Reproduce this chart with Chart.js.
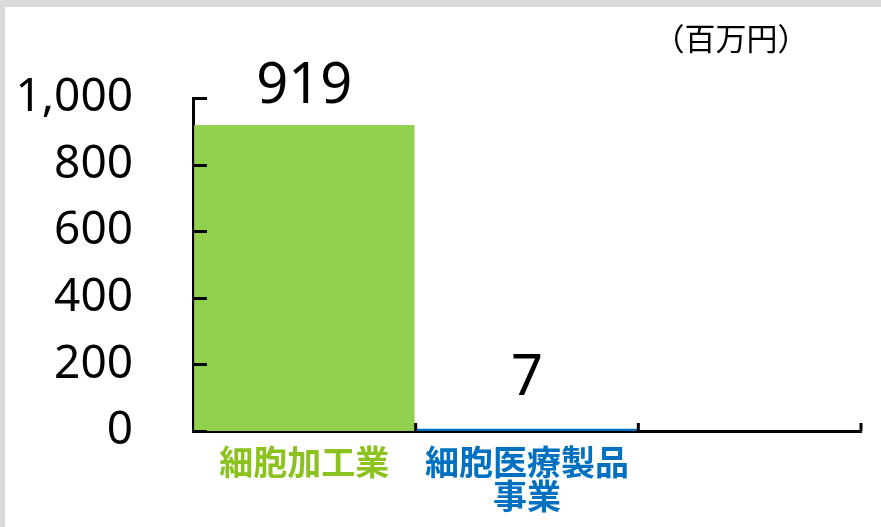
<!DOCTYPE html>
<html>
<head>
<meta charset="utf-8">
<script src="https://cdn.jsdelivr.net/npm/chart.js@4/dist/chart.umd.min.js"></script>
<style>
html,body{margin:0;padding:0;background:#fff;}
canvas{display:block;}
</style>
</head>
<body>
<canvas id="c" width="881" height="527"></canvas>
<script>
const categories = [['細胞加工業'], ['細胞医療製品', '事業'], ''];
const values = [919, 7, null];
const barColors = ['#92d050', '#0070c0', '#ffffff'];
const labelColors = ['#8cc21f', '#0070c0', '#000000'];
const yTicks = [0, 200, 400, 600, 800, 1000];
const unitLabel = '（百万円）';

const framePlugin = {
  id: 'frame',
  beforeDraw(chart) {
    const ctx = chart.ctx;
    ctx.save();
    ctx.fillStyle = '#d9d9d9';
    ctx.fillRect(0, 0, chart.width, chart.height);
    ctx.fillStyle = '#ffffff';
    ctx.fillRect(5, 7, chart.width - 5, chart.height - 7);
    ctx.restore();
  }
};

const decoPlugin = {
  id: 'deco',
  afterDraw(chart) {
    const ctx = chart.ctx;
    const ca = chart.chartArea;
    const x = chart.scales.x, y = chart.scales.y;
    ctx.save();
    ctx.strokeStyle = '#000';
    ctx.lineWidth = 3;
    // inward y ticks
    yTicks.forEach(v => {
      const py = Math.round(y.getPixelForValue(v)) + 0.5;
      ctx.beginPath();
      ctx.moveTo(ca.left, py);
      ctx.lineTo(ca.left + 14, py);
      ctx.stroke();
    });
    // category boundary ticks (upward)
    const n = chart.data.labels.length;
    const w = (x.right - x.left) / n;
    for (let i = 1; i <= n; i++) {
      const px = x.getPixelForValue(i - 1) + w / 2;
      ctx.beginPath();
      ctx.moveTo(px, ca.bottom);
      ctx.lineTo(px, ca.bottom - 8);
      ctx.stroke();
    }
    // value labels
    const meta = chart.getDatasetMeta(0);
    const offsets = [22, 34];
    ctx.fillStyle = '#000';
    ctx.font = '56px "Noto Sans", sans-serif';
    ctx.textAlign = 'center';
    ctx.textBaseline = 'alphabetic';
    meta.data.forEach((bar, i) => {
      const v = chart.data.datasets[0].data[i];
      if (v === null || v === undefined) return;
      ctx.fillText(String(v), bar.x, bar.y - (offsets[i] || 22));
    });
    // unit label
    ctx.font = '31px "Noto Sans CJK JP", sans-serif';
    ctx.textBaseline = 'middle';
    ctx.fillText(unitLabel, 731, 38);
    ctx.restore();
  }
};

new Chart(document.getElementById('c'), {
  type: 'bar',
  data: {
    labels: categories,
    datasets: [{
      data: values,
      backgroundColor: barColors,
      borderWidth: 0,
      categoryPercentage: 1.0,
      barPercentage: 0.99
    }]
  },
  options: {
    responsive: false,
    animation: false,
    devicePixelRatio: 1,
    layout: { padding: { left: 0, top: 98, right: 20, bottom: 0 } },
    plugins: { legend: { display: false }, tooltip: { enabled: false } },
    scales: {
      x: {
        grid: { display: false },
        border: { display: true, color: '#000', width: 3 },
        ticks: {
          padding: 6,
          maxRotation: 0,
          autoSkip: false,
          color: ctx => labelColors[ctx.index] || '#000',
          font: { family: '"Noto Sans CJK JP", sans-serif', size: 34, weight: 'bold', lineHeight: 1.0 }
        },
        afterFit(s) { s.height = 96; }
      },
      y: {
        min: 0,
        max: 1000,
        grid: { display: false },
        border: { display: true, color: '#000', width: 3 },
        afterBuildTicks(s) { s.ticks = yTicks.map(v => ({ value: v })); },
        ticks: {
          padding: 52,
          color: '#000',
          font: { family: '"Noto Sans", sans-serif', size: 46 },
          callback: v => v.toLocaleString('en-US')
        },
        afterFit(s) { s.width = 193; }
      }
    }
  },
  plugins: [framePlugin, decoPlugin]
});
</script>
</body>
</html>
